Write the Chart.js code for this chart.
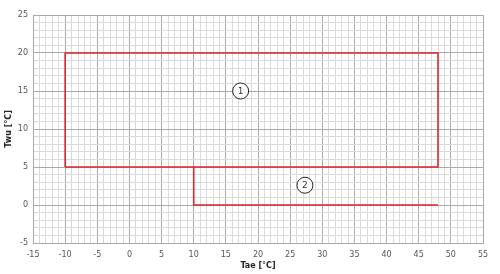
<!DOCTYPE html>
<html><head><meta charset="utf-8">
<script src="https://cdn.jsdelivr.net/npm/chart.js@4"></script>
<style>html,body{margin:0;padding:0;background:#fff}#wrap{width:500px;height:274px}</style>
</head><body><div id="wrap"><canvas id="c" width="500" height="274"></canvas></div>
<script>
// Data
const xTicks = [-15,-10,-5,0,5,10,15,20,25,30,35,40,45,50,55];
const yTicks = [-5,0,5,10,15,20,25];
const zone1X = [-10, 48, 48, -10, -10];
const zone1Y = [5, 5, 20, 20, 5];
const zone2X = [10, 10, 48];
const zone2Y = [5, 0, 0];
const markerLabels = ['1', '2'];
const markerX = [17.3, 27.3];
const markerY = [15, 2.6];
const xTitle = 'Tae [°C]';
const yTitle = 'Twu [°C]';

const toPts = (xs, ys) => xs.map((x, i) => ({x, y: ys[i]}));
const red = '#e0262b';

const labelPlugin = {
  id: 'markerText',
  afterDatasetsDraw(chart) {
    const ctx = chart.ctx;
    const meta = chart.getDatasetMeta(2);
    ctx.save();
    ctx.font = '9px "DejaVu Sans"';
    ctx.fillStyle = '#333';
    ctx.textAlign = 'center';
    ctx.textBaseline = 'middle';
    meta.data.forEach((el, i) => ctx.fillText(markerLabels[i], el.x, el.y + 0.5));
    ctx.restore();
  }
};

new Chart(document.getElementById('c'), {
  type: 'scatter',
  data: { datasets: [
    { data: toPts(zone1X, zone1Y), showLine: true, borderColor: red, borderWidth: 1.6, pointRadius: 0, fill: false, tension: 0 },
    { data: toPts(zone2X, zone2Y), showLine: true, borderColor: red, borderWidth: 1.6, pointRadius: 0, fill: false, tension: 0 },
    { data: toPts(markerX, markerY), showLine: false, pointRadius: 8, pointBackgroundColor: '#fff', pointBorderColor: '#222', pointBorderWidth: 1 }
  ]},
  plugins: [labelPlugin],
  options: {
    responsive: false, animation: false,
    layout: { padding: { top: 15, right: 17, left: 0, bottom: 0 } },
    plugins: { legend: { display: false }, tooltip: { enabled: false } },
    scales: {
      x: {
        type: 'linear', min: -15, max: 55,
        afterFit(s) { s.height = 31; },
        ticks: { stepSize: 1, autoSkip: false, maxRotation: 0, color: '#555', font: { family: 'DejaVu Sans', size: 8 }, padding: 7,
          callback: v => (xTicks.includes(v) ? String(v) : '') },
        grid: { color: c => (c.tick && c.tick.value % 5 === 0 ? '#aaaaaa' : '#dadada'), lineWidth: 1, drawTicks: false },
        border: { display: true, color: '#aaaaaa' },
        title: { display: true, text: xTitle, color: '#222', font: { family: 'DejaVu Sans', size: 8, weight: 'bold' }, padding: { top: 0, bottom: 3 } }
      },
      y: {
        type: 'linear', min: -5, max: 25,
        afterFit(s) { s.width = 33; },
        ticks: { stepSize: 1, autoSkip: false, color: '#555', font: { family: 'DejaVu Sans', size: 8 }, padding: 5,
          callback: v => (yTicks.includes(v) ? String(v) : '') },
        grid: { color: c => (c.tick && c.tick.value % 5 === 0 ? '#aaaaaa' : '#dadada'), lineWidth: 1, drawTicks: false },
        border: { display: true, color: '#aaaaaa' },
        title: { display: true, text: yTitle, color: '#222', font: { family: 'DejaVu Sans', size: 8, weight: 'bold' }, padding: { top: 4, bottom: 0 } }
      }
    }
  }
});
</script></body></html>
